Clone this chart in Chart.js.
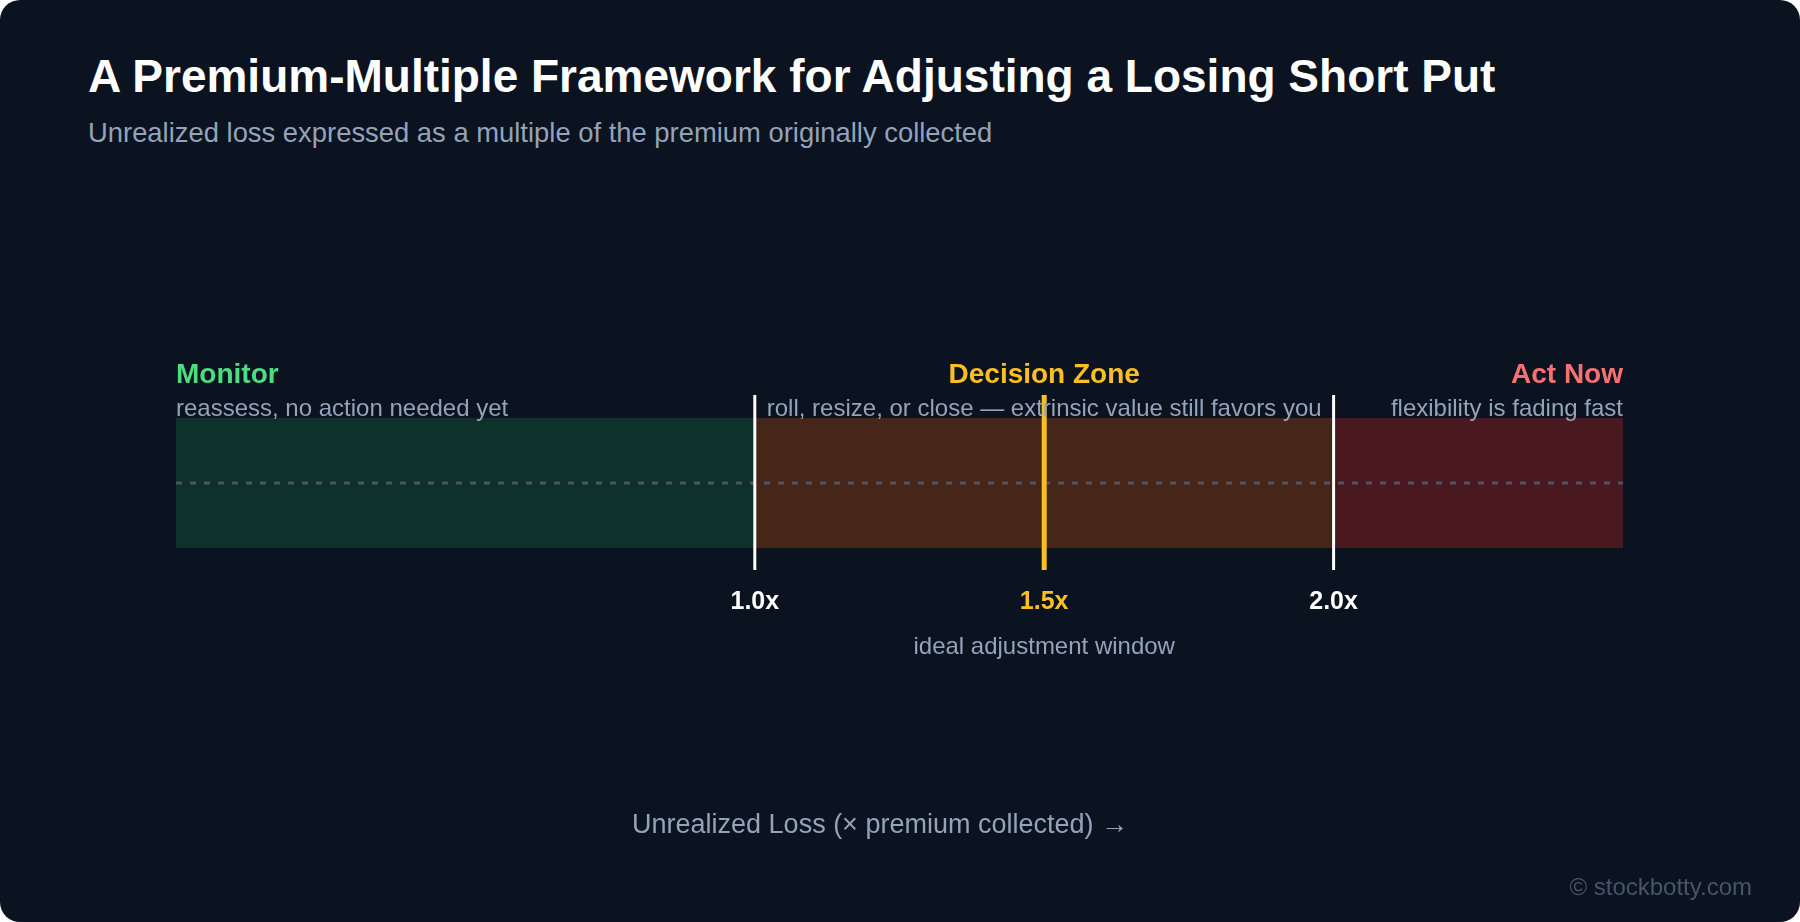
<!DOCTYPE html>
<html><head><meta charset="utf-8">
<script src="https://cdn.jsdelivr.net/npm/chart.js@4"></script>
<style>
html,body{margin:0;padding:0;background:#ffffff;width:1800px;height:922px;overflow:hidden;font-family:"Liberation Sans",Arial,sans-serif}
#card{position:absolute;left:0;top:0;width:1800px;height:922px;background:#0b1220;border-radius:20px;overflow:hidden}
#t{position:absolute;left:88px;top:50px;color:#fff;font-weight:bold;font-size:46px;line-height:52px}
#s{position:absolute;left:88px;top:117px;color:#94a3b8;font-size:27.4px;line-height:31px}
#wm{position:absolute;right:48px;top:873px;color:#475569;font-size:24px}
canvas{position:absolute;left:0;top:0}
</style></head><body>
<div id="card">
<div id="t">A Premium-Multiple Framework for Adjusting a Losing Short Put</div>
<div id="s">Unrealized loss expressed as a multiple of the premium originally collected</div>
<canvas id="c" width="1800" height="922"></canvas>
<div id="wm">© stockbotty.com</div>
</div>
<script>
const zones = ['Monitor','Decision Zone','Act Now'];
const zoneStart = [0, 1, 2];
const zoneEnd = [1, 2, 2.5];
const zoneNotes = ['reassess, no action needed yet','roll, resize, or close — extrinsic value still favors you','flexibility is fading fast'];
const zoneFill = ['#0f312c','#462618','#4a1920'];
const zoneTitleColor = ['#4ade80','#fbbf24','#f87171'];
const thresholds = [1.0, 1.5, 2.0];
const tickLabels = ['1.0x','1.5x','2.0x'];
const thresholdColor = ['#ffffff','#fbbf24','#ffffff'];
const axisTitle = 'Unrealized Loss (× premium collected) →';

const overlay = {
  id:'overlay',
  afterDatasetsDraw(chart){
    const {ctx, chartArea:a, scales:{x}} = chart;
    ctx.save();
    const mid = (a.top+a.bottom)/2;
    ctx.strokeStyle='#4b5563'; ctx.lineWidth=3; ctx.setLineDash([6,8]);
    ctx.beginPath(); ctx.moveTo(a.left,mid); ctx.lineTo(a.right,mid); ctx.stroke();
    ctx.setLineDash([]);
    thresholds.forEach((t,i)=>{
      const px=x.getPixelForValue(t);
      ctx.strokeStyle=thresholdColor[i]; ctx.lineWidth=i===1?5:3;
      ctx.beginPath(); ctx.moveTo(px,a.top-23); ctx.lineTo(px,a.bottom+22); ctx.stroke();
      ctx.fillStyle=thresholdColor[i]; ctx.font='bold 25px "Liberation Sans"';
      ctx.textAlign='center'; ctx.textBaseline='middle';
      ctx.fillText(tickLabels[i],px,602);
    });
    ctx.fillStyle='#94a3b8'; ctx.font='24px "Liberation Sans"'; ctx.textAlign='center';
    ctx.fillText('ideal adjustment window',x.getPixelForValue(1.5),647);
    ctx.font='27px "Liberation Sans"';
    ctx.fillText(axisTitle,880,826);
    zones.forEach((z,i)=>{
      let px, al;
      if(i===0){px=x.getPixelForValue(zoneStart[0]);al='left';}
      else if(i===2){px=x.getPixelForValue(zoneEnd[2]);al='right';}
      else {px=x.getPixelForValue((zoneStart[1]+zoneEnd[1])/2);al='center';}
      ctx.textAlign=al;
      ctx.fillStyle=zoneTitleColor[i]; ctx.font='bold 28px "Liberation Sans"';
      ctx.fillText(z,px,375);
      ctx.fillStyle='#94a3b8'; ctx.font='24px "Liberation Sans"';
      ctx.fillText(zoneNotes[i],px,409);
    });
    ctx.restore();
  }
};

new Chart(document.getElementById('c'),{
  type:'bar',
  data:{labels:['loss'],datasets:zones.map((z,i)=>({label:z,data:[[zoneStart[i],zoneEnd[i]]],backgroundColor:zoneFill[i],borderWidth:0,barPercentage:1,categoryPercentage:1,grouped:false}))},
  options:{indexAxis:'y',responsive:false,animation:false,
    layout:{padding:{left:176,right:177,top:418,bottom:374}},
    plugins:{legend:{display:false},tooltip:{enabled:false}},
    scales:{x:{type:'linear',min:0,max:2.5,display:false},y:{display:false}}},
  plugins:[overlay]
});
</script></body></html>
